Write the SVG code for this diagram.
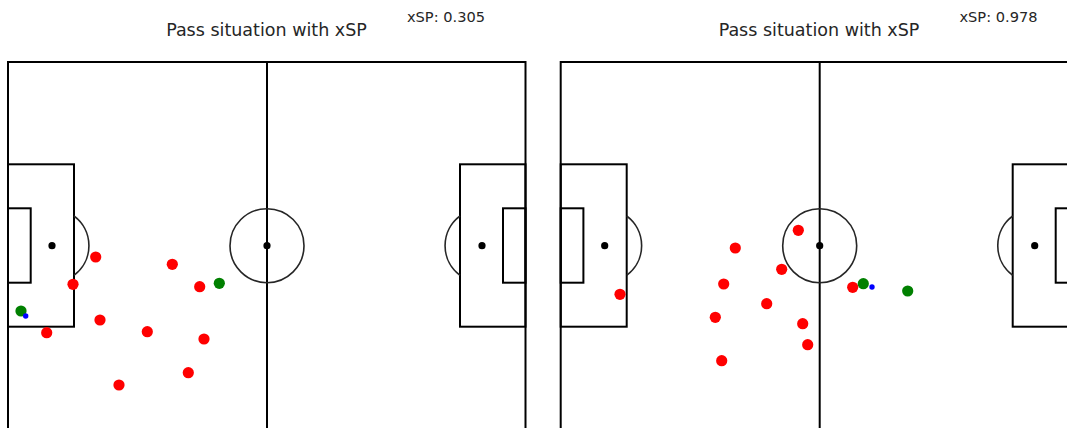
<svg xmlns="http://www.w3.org/2000/svg" width="1067" height="428" viewBox="0 0 1067 428">
<style>
.bg{fill:#ffffff}
.ln{fill:none;stroke:#000000;stroke-width:2}
.arc{fill:none;stroke:#262626;stroke-width:1.6}
.spot{fill:#000000}
.title{font-family:"DejaVu Sans",sans-serif;font-size:17.5px;fill:#262626;text-anchor:middle}
.xsp{font-family:"DejaVu Sans",sans-serif;font-size:14.6px;fill:#262626;text-anchor:middle}
.r{fill:#ff0000}
.g{fill:#008000}
.b{fill:#0000ff}
</style>
<defs>
<g id="pitch">
<rect x="8" y="62" width="517.5" height="367" class="ln"/>
<line x1="267" y1="62" x2="267" y2="429" class="ln"/>
<circle cx="267" cy="245.7" r="37" class="arc"/>
<circle cx="267" cy="245.7" r="3.6" class="spot"/>
<rect x="8" y="164.3" width="66" height="162.4" class="ln"/>
<rect x="8" y="208.3" width="22.7" height="74.4" class="ln"/>
<circle cx="52" cy="245.7" r="3.6" class="spot"/>
<path d="M74 216 A37 37 0 0 1 74 275.4" class="arc"/>
<rect x="460" y="164.3" width="65.5" height="162.4" class="ln"/>
<rect x="503" y="208.3" width="22.5" height="74.4" class="ln"/>
<circle cx="482" cy="245.7" r="3.6" class="spot"/>
<path d="M460 216 A37 37 0 0 0 460 275.4" class="arc"/>
</g>
</defs>
<rect width="1067" height="428" class="bg"/>
<g id="left-plot">
<text class="title" x="266.5" y="36">Pass situation with xSP</text>
<text class="xsp" x="446" y="22">xSP: 0.305</text>
<use href="#pitch"/>
<g id="left-players">
<circle cx="95.7" cy="257" r="5.6" class="r"/>
<circle cx="172.3" cy="264.3" r="5.6" class="r"/>
<circle cx="73" cy="284.3" r="5.6" class="r"/>
<circle cx="199.7" cy="286.7" r="5.6" class="r"/>
<circle cx="100" cy="320" r="5.6" class="r"/>
<circle cx="46.7" cy="332.7" r="5.6" class="r"/>
<circle cx="147.3" cy="331.7" r="5.6" class="r"/>
<circle cx="204" cy="339" r="5.6" class="r"/>
<circle cx="188.3" cy="372.7" r="5.6" class="r"/>
<circle cx="119" cy="385" r="5.6" class="r"/>
<circle cx="219.3" cy="283.3" r="5.6" class="g"/>
<circle cx="21" cy="311" r="5.6" class="g"/>
<circle cx="25.7" cy="316" r="2.7" class="b"/>
</g>
</g>
<g id="right-plot">
<text class="title" x="819" y="36">Pass situation with xSP</text>
<text class="xsp" x="998.5" y="22">xSP: 0.978</text>
<use href="#pitch" transform="translate(552.7 0)"/>
<g id="right-players">
<circle cx="798.3" cy="230.3" r="5.6" class="r"/>
<circle cx="735.3" cy="248" r="5.6" class="r"/>
<circle cx="781.7" cy="269.3" r="5.6" class="r"/>
<circle cx="723.7" cy="284" r="5.6" class="r"/>
<circle cx="852.7" cy="287.3" r="5.6" class="r"/>
<circle cx="766.7" cy="303.7" r="5.6" class="r"/>
<circle cx="715.3" cy="317.3" r="5.6" class="r"/>
<circle cx="802.7" cy="323.7" r="5.6" class="r"/>
<circle cx="807.7" cy="344.7" r="5.6" class="r"/>
<circle cx="721.7" cy="360.7" r="5.6" class="r"/>
<circle cx="620" cy="294.3" r="5.6" class="r"/>
<circle cx="863.3" cy="283.7" r="5.6" class="g"/>
<circle cx="907.7" cy="291" r="5.6" class="g"/>
<circle cx="872" cy="287" r="2.7" class="b"/>
</g>
</g>
</svg>
